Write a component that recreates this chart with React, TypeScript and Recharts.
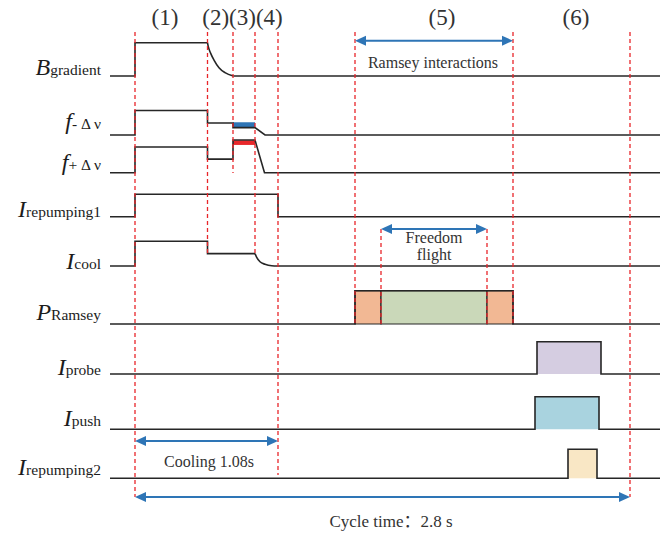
import {
  ComposedChart,
  Line,
  XAxis,
  YAxis,
  ReferenceArea,
  ReferenceLine,
  ReferenceDot,
} from 'recharts';

const SERIF = '"Liberation Serif", "Times New Roman", "Noto Sans CJK SC", serif';
const INK = '#262626';
const TEXT = '#333333';
const GUIDE_RED = '#e8262a';
const ARROW_BLUE = '#2e75b6';

// schematic time axis (not to scale), one unit = 10px of plot width
const T_END = 55;

// phase headers
const PHASE_LABELS = ['(1)', '(2)(3)(4)', '(5)', '(6)'];
const PHASE_LABEL_AT = [5.5, 13.25, 33.2, 46.6];

// signal levels as [t, level], 0 = off, 1 = on
const B_GRADIENT = [[0, 0], [2.5, 0], [2.5, 1], [9.75, 1]];
const B_GRADIENT_DECAY = [[9.75, 1], [9.83, 0.88], [10.07, 0.68], [10.4, 0.48], [10.9, 0.25], [11.5, 0.1], [12.33, 0]];
const B_GRADIENT_OFF = [[12.33, 0], [T_END, 0]];

const F_MINUS = [[0, 0], [2.5, 0], [2.5, 1], [9.75, 1], [9.75, 0.49], [12.3, 0.49], [12.3, 0.3], [14.5, 0.3], [15.5, 0], [T_END, 0]];
const F_PLUS = [[0, 0], [2.5, 0], [2.5, 1], [9.75, 1], [9.75, 0.53], [12.3, 0.53], [12.3, 1.27], [14.5, 1.27], [15.45, 0], [T_END, 0]];

const I_REPUMP1 = [[0, 0], [2.5, 0], [2.5, 1], [16.8, 1], [16.8, 0], [T_END, 0]];

const I_COOL = [[0, 0], [2.5, 0], [2.5, 1], [9.75, 1], [9.75, 0.5], [14.5, 0.5]];
const I_COOL_DECAY = [[14.5, 0.5], [14.67, 0.35], [15.0, 0.17], [15.5, 0.07], [16.17, 0.01], [16.8, 0]];
const I_COOL_OFF = [[16.8, 0], [T_END, 0]];

const P_RAMSEY = [[0, 0], [24.5, 0], [24.5, 1], [40.3, 1], [40.3, 0], [T_END, 0]];
const I_PROBE = [[0, 0], [42.7, 0], [42.7, 1], [49.1, 1], [49.1, 0], [T_END, 0]];
const I_PUSH = [[0, 0], [42.5, 0], [42.5, 1], [48.9, 1], [48.9, 0], [T_END, 0]];
const I_REPUMP2 = [[0, 0], [45.8, 0], [45.8, 1], [48.7, 1], [48.7, 0], [T_END, 0]];

// rows: lane baseline + height of a full "on" level
const ROWS = [
  { key: 'b', main: 'B', sub: 'gradient', base: 76, amp: 33.3, dy: -1, segs: [[B_GRADIENT, false], [B_GRADIENT_DECAY, true], [B_GRADIENT_OFF, false]] },
  { key: 'fm', main: 'f', sub: '- Δ ν', base: 135, amp: 24.5, dy: -6, segs: [[F_MINUS, false]] },
  { key: 'fp', main: 'f', sub: '+ Δ ν', base: 172.7, amp: 25.7, dy: -3, segs: [[F_PLUS, false]] },
  { key: 'r1', main: 'I', sub: 'repumping1', base: 216.7, amp: 22.4, dy: 0, segs: [[I_REPUMP1, false]] },
  { key: 'cool', main: 'I', sub: 'cool', base: 266, amp: 24.7, dy: 3, segs: [[I_COOL, false], [I_COOL_DECAY, true], [I_COOL_OFF, false]] },
  { key: 'ram', main: 'P', sub: 'Ramsey', base: 324, amp: 33.3, dy: -4, segs: [[P_RAMSEY, false]] },
  { key: 'probe', main: 'I', sub: 'probe', base: 374, amp: 32.3, dy: 1, segs: [[I_PROBE, false]] },
  { key: 'push', main: 'I', sub: 'push', base: 429.3, amp: 32.6, dy: -3, segs: [[I_PUSH, false]] },
  { key: 'r2', main: 'I', sub: 'repumping2', base: 478.3, amp: 29, dy: -3, segs: [[I_REPUMP2, false]] },
];

// coloured blocks: row, t0, t1, low level, high level
const BLOCKS = [
  { row: 'fm', t0: 12.3, t1: 14.5, lo: 0.32, hi: 0.52, fill: '#2e75b6', edge: false },
  { row: 'fp', t0: 12.3, t1: 14.5, lo: 1.08, hi: 1.26, fill: '#e8282b', edge: false },
  { row: 'ram', t0: 24.5, t1: 27.1, lo: 0, hi: 1, fill: '#f2b894', edge: true },
  { row: 'ram', t0: 27.1, t1: 37.7, lo: 0, hi: 1, fill: '#cad8b9', edge: true },
  { row: 'ram', t0: 37.7, t1: 40.3, lo: 0, hi: 1, fill: '#f2b894', edge: true },
  { row: 'probe', t0: 42.7, t1: 49.1, lo: 0, hi: 1, fill: '#d5cde1', edge: false },
  { row: 'push', t0: 42.5, t1: 48.9, lo: 0, hi: 1, fill: '#a9d3df', edge: false },
  { row: 'r2', t0: 45.8, t1: 48.7, lo: 0, hi: 1, fill: '#f9e7c5', edge: false },
];

// red dashed phase guides: t, lane from, lane to
const GUIDES = [
  { t: 2.5, from: 32, to: 497 },
  { t: 9.75, from: 32, to: 253 },
  { t: 12.3, from: 32, to: 173 },
  { t: 14.5, from: 32, to: 254 },
  { t: 16.8, from: 32, to: 475 },
  { t: 24.5, from: 32, to: 324 },
  { t: 27.1, from: 229, to: 324 },
  { t: 37.7, from: 229, to: 324 },
  { t: 40.3, from: 32, to: 324 },
  { t: 52, from: 32, to: 497 },
];

// double-headed spans with their captions
const SPANS = [
  { t0: 24.5, t1: 40.3, y: 40.7, text: ['Ramsey interactions'], at: 32.3, textY: 67.5, size: 16 },
  { t0: 27.1, t1: 37.7, y: 229, text: ['Freedom', 'flight'], at: 32.4, textY: 243, size: 16 },
  { t0: 2.5, t1: 16.8, y: 441, text: ['Cooling 1.08s'], at: 9.9, textY: 467, size: 16 },
  { t0: 2.5, t1: 52, y: 497, text: ['Cycle time：2.8 s'], at: 28.1, textY: 527, size: 17 },
];

const rowOf = (k: string) => ROWS.find((r) => r.key === k)!;
const lane = (row: any, level: number) => row.base - level * row.amp;

function ArrowShape(p: any) {
  const { x1, y1, x2, y2 } = p;
  const L = 11;
  const W = 5;
  return (
    <g>
      <line x1={x1 + L - 1} y1={y1} x2={x2 - L + 1} y2={y2} stroke={ARROW_BLUE} strokeWidth={2} />
      <polygon points={`${x1},${y1} ${x1 + L},${y1 - W} ${x1 + L},${y1 + W}`} fill={ARROW_BLUE} />
      <polygon points={`${x2},${y2} ${x2 - L},${y2 - W} ${x2 - L},${y2 + W}`} fill={ARROW_BLUE} />
    </g>
  );
}

function RowLabel(props: any) {
  const { x, y, payload } = props;
  const row = ROWS.find((r) => r.base === payload.value);
  if (!row) return null;
  return (
    <text x={x - 1} y={y + row.dy} textAnchor="end" fontFamily={SERIF} fill="#1c1c1c">
      <tspan fontStyle="italic" fontSize={24}>{row.main}</tspan>
      <tspan fontSize={15.5}>{row.sub}</tspan>
    </text>
  );
}

export default function App() {
  return (
    <div style={{ position: 'absolute', left: 0, top: 0, width: 670, height: 535, background: '#fff' }}>
      <ComposedChart width={670} height={535} margin={{ top: 0, right: 10, bottom: 0, left: 0 }}>
        <XAxis type="number" dataKey="t" domain={[0, T_END]} hide height={0} allowDataOverflow />
        <YAxis
          type="number"
          domain={[0, 535]}
          reversed
          width={110}
          ticks={ROWS.map((r) => r.base)}
          interval={0}
          tick={RowLabel}
          axisLine={false}
          tickLine={false}
          allowDataOverflow
        />

        {BLOCKS.map((b, i) => {
          const row = rowOf(b.row);
          return (
            <ReferenceArea
              key={`blk${i}`}
              x1={b.t0}
              x2={b.t1}
              y1={lane(row, b.lo)}
              y2={lane(row, b.hi)}
              fill={b.fill}
              fillOpacity={1}
              stroke={b.edge ? INK : 'none'}
              strokeWidth={1.2}
            />
          );
        })}

        {ROWS.flatMap((row) =>
          row.segs.map(([pts, curved]: any, i: number) => (
            <Line
              key={`${row.key}${i}`}
              data={pts.map(([t, v]: number[]) => ({ t, y: lane(row, v) }))}
              dataKey="y"
              type={curved ? 'monotone' : 'linear'}
              stroke={INK}
              strokeWidth={1.6}
              dot={false}
              activeDot={false}
              isAnimationActive={false}
            />
          ))
        )}

        {GUIDES.map((g, i) => (
          <ReferenceLine
            key={`g${i}`}
            segment={[{ x: g.t, y: g.from }, { x: g.t, y: g.to }]}
            stroke={GUIDE_RED}
            strokeWidth={1.3}
            strokeDasharray="4 3"
          />
        ))}

        {SPANS.map((s, i) => (
          <ReferenceLine
            key={`s${i}`}
            segment={[{ x: s.t0, y: s.y }, { x: s.t1, y: s.y }]}
            shape={ArrowShape}
          />
        ))}

        {SPANS.map((s, i) => (
          <ReferenceDot
            key={`st${i}`}
            x={s.at}
            y={s.textY}
            shape={(p: any) => (
              <text x={p.cx} y={p.cy} textAnchor="middle" fontFamily={SERIF} fontSize={s.size} fill={TEXT}>
                {s.text.map((line, j) => (
                  <tspan key={j} x={p.cx} dy={j === 0 ? 0 : 17}>
                    {line}
                  </tspan>
                ))}
              </text>
            )}
          />
        ))}

        {PHASE_LABELS.map((lbl, i) => (
          <ReferenceDot
            key={`ph${i}`}
            x={PHASE_LABEL_AT[i]}
            y={25}
            shape={(p: any) => (
              <text x={p.cx} y={p.cy} textAnchor="middle" fontFamily={SERIF} fontSize={23} fill={TEXT}>
                {lbl}
              </text>
            )}
          />
        ))}
      </ComposedChart>
    </div>
  );
}
